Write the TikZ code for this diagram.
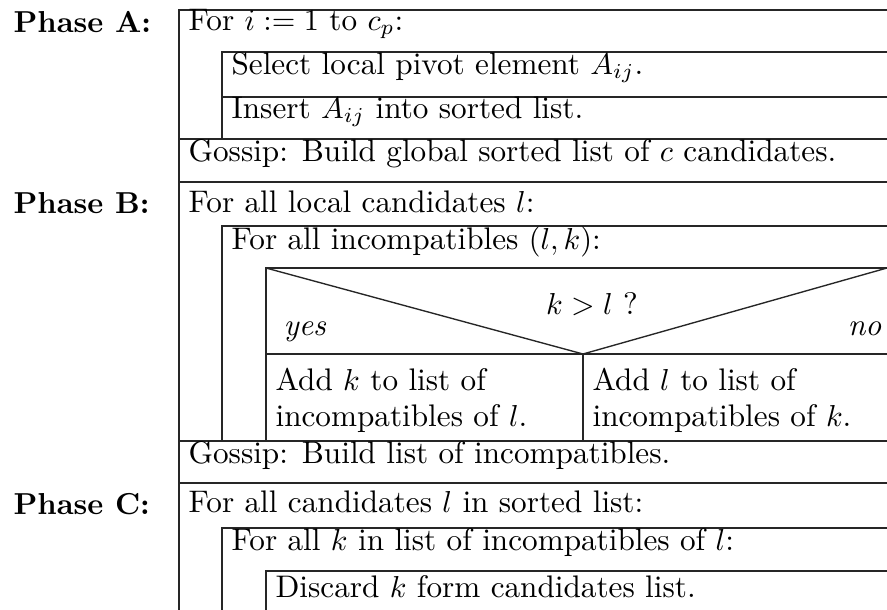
\documentclass[tikz,border=0pt]{standalone}
\usepackage{tikz}

\begin{document}
\begin{tikzpicture}[
  x=0.33pt, y=-0.33pt,
  linea/.style={line width=0.45pt, black!85},
  fase/.style={font=\bfseries, anchor=base west, inner sep=0pt},
  txt/.style={font=\fontsize{10.3}{12.2}\selectfont, anchor=base west, inner sep=0pt},
  dos/.style={txt, align=left}
]
\useasboundingbox (0,0) rectangle (887,610);

% Phase A
\draw[linea] (887,10) -- (179,10) -- (179,610);
\draw[linea] (887,52) -- (222,52) -- (222,139);
\draw[linea] (222,97) -- (887,97);
\draw[linea] (179,139) -- (887,139);
\draw[linea] (179,182) -- (887,182);

% Phase B
\draw[linea] (887,226) -- (222,226) -- (222,441);
\draw[linea] (887,268) -- (266,268) -- (266,441);
\draw[linea] (266,268) -- (583,354) -- (887,268);
\draw[linea] (266,354) -- (887,354);
\draw[linea] (583,354) -- (583,441);
\draw[linea] (179,441) -- (887,441);
\draw[linea] (179,483) -- (887,483);

% Phase C
\draw[linea] (887,528) -- (222,528) -- (222,610);
\draw[linea] (887,571) -- (266,571) -- (266,610);

\node[fase] (faseA) at (13,32) {Phase A:};
\node[txt] (paraI) at (188,30) {For $i := 1$ to $c_p$:};
\node[txt] (pivote) at (231,74) {Select local pivot element $A_{ij}$.};
\node[txt] (insertar) at (231,118) {Insert $A_{ij}$ into sorted list.};
\node[txt] (gossipA) at (188,161) {Gossip: Build global sorted list of $c$ candidates.};

\node[fase] (faseB) at (13,213) {Phase B:};
\node[txt] (paraL) at (188,212) {For all local candidates $l$:};
\node[txt] (paraLK) at (231,249) {For all incompatibles $(l,k)$:};
\node[txt, anchor=base] (cond) at (592,314) {$k > l$ ?};
\node[txt] (si) at (283,335) {\textit{yes}};
\node[txt, anchor=base east] (no) at (882,335) {\textit{no}};
\node[txt] (addK) at (275,390) {\begin{tabular}[t]{@{}l@{}}Add $k$ to list of\\incompatibles of $l$.\end{tabular}};
\node[txt] (addL) at (592,390) {\begin{tabular}[t]{@{}l@{}}Add $l$ to list of\\incompatibles of $k$.\end{tabular}};
\node[txt] (gossipB) at (188,463) {Gossip: Build list of incompatibles.};

\node[fase] (faseC) at (13,514) {Phase C:};
\node[txt] (paraCand) at (188,512) {For all candidates $l$ in sorted list:};
\node[txt] (paraK) at (231,550) {For all $k$ in list of incompatibles of $l$:};
\node[txt] (descartar) at (275,597) {Discard $k$ form candidates list.};
\end{tikzpicture}
\end{document}
